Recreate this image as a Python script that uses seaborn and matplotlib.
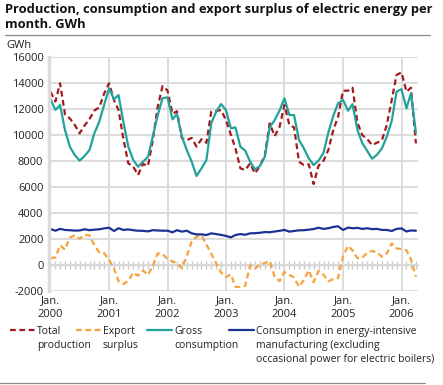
import matplotlib
matplotlib.use("Agg")
import matplotlib.pyplot as plt
from matplotlib.lines import Line2D
import numpy as np
import pandas as pd
import seaborn as sns

# ---------------- data ----------------
months = pd.date_range("2000-01-01", periods=76, freq="MS")

total_production = [
    13350, 12600, 14000, 11600, 11300, 10800, 10150, 10750, 11250, 11900, 12150, 13200,
    14000, 12700, 11950, 9700, 7850, 7590, 6950, 7800, 7640, 9640, 12200, 13790,
    13450, 11650, 11850, 9770, 9620, 9800, 9130, 9700, 9420, 11820, 11870, 11940,
    11170, 10020, 9000, 7460, 7330, 7840, 7070, 7640, 8480, 10920, 9940, 10610,
    12330, 10790, 10610, 7970, 7710, 7770, 6250, 7660, 8050, 8870, 10400, 11430,
    13430, 13430, 13660, 10970, 10020, 9710, 9250, 9430, 9640, 10790, 12710, 14640,
    14840, 13350, 13660, 9380,
]
export_surplus = [
    560, 600, 1540, 1200, 2140, 2300, 2050, 2350, 2300, 1560, 990, 940,
    420, -250, -1220, -1440, -1200, -560, -800, -400, -740, -60, 920, 860,
    480, 300, 170, -230, 700, 1820, 2200, 2300, 1600, 900, 150, -550,
    -900, -700, -1650, -1680, -1580, 0, -250, 50, 170, 330, -880, -1220,
    -520, -740, -950, -1650, -1130, -380, -1300, -430, -720, -1230, -1060, -980,
    700, 1500, 1150, 550, 600, 950, 1100, 1000, 650, 900, 1690, 1300,
    1250, 1150, 450, -870,
]
gross_consumption = [
    12770, 11950, 12330, 10400, 9130, 8480, 8050, 8410, 8870, 10150, 11050, 12330,
    13610, 12770, 13100, 11000, 9130, 8100, 7580, 7970, 8350, 9900, 11560, 12850,
    12920, 11230, 11640, 9900, 8870, 7970, 6870, 7460, 8100, 10920, 11820, 12400,
    11940, 10530, 10610, 9120, 8820, 7970, 7380, 7640, 8360, 10610, 11170, 11890,
    12840, 11560, 11560, 9640, 9000, 8230, 7710, 8050, 8660, 10200, 11500, 12450,
    12730, 11890, 12400, 10400, 9400, 8800, 8200, 8500, 9000, 9900, 11100, 13350,
    13550, 12070, 13230, 10200,
]
energy_intensive = [
    2790, 2660, 2800, 2720, 2700, 2670, 2680, 2770, 2700, 2740, 2770, 2840,
    2890, 2640, 2850, 2720, 2760, 2700, 2660, 2650, 2610, 2700, 2680, 2660,
    2660, 2540, 2700, 2590, 2660, 2460, 2380, 2380, 2330, 2460, 2400, 2340,
    2260, 2150, 2330, 2400, 2350, 2460, 2470, 2500, 2560, 2540, 2600, 2650,
    2720, 2590, 2640, 2690, 2700, 2740, 2790, 2890, 2800, 2850, 2950, 3000,
    2720, 2900, 2850, 2880, 2800, 2850, 2780, 2800, 2720, 2720, 2640, 2800,
    2840, 2600, 2680, 2660,
]

series_names = [
    "Total\nproduction",
    "Export\nsurplus",
    "Gross\nconsumption",
    "Consumption in energy-intensive\nmanufacturing (excluding\noccasional power for electric boilers)",
]
series_colors = ["#a3191c", "#f8a23c", "#22a29c", "#1b3293"]
year_ticks = pd.date_range("2000-01-01", periods=7, freq="YS")
year_labels = [f"Jan.\n{d.year}" for d in year_ticks]
y_ticks = list(range(-2000, 16001, 2000))

title = "Production, consumption and export surplus of electric energy per\nmonth. GWh"

# ---------------- long table ----------------
frames = []
for name, vals in zip(series_names,
                      [total_production, export_surplus, gross_consumption, energy_intensive]):
    frames.append(pd.DataFrame({"month": months, "GWh": vals, "series": name}))
df = pd.concat(frames, ignore_index=True)

palette = dict(zip(series_names, series_colors))
dashes = {series_names[0]: (2.6, 1.6), series_names[1]: (2.6, 1.6),
          series_names[2]: "", series_names[3]: ""}

# ---------------- style ----------------
sns.set_theme(style="whitegrid")
plt.rcParams["font.family"] = ["Open Sans", "DejaVu Sans"]
plt.rcParams["axes.unicode_minus"] = False

W, H = 443, 385
fig = plt.figure(figsize=(W / 100, H / 100), dpi=100)
ax = fig.add_axes([49 / W, 1 - 291.3 / H, (418 - 49) / W, (291.3 - 57.3) / H])

sns.lineplot(data=df, x="month", y="GWh", hue="series", style="series",
             palette=palette, dashes=dashes, hue_order=series_names,
             style_order=series_names, linewidth=1.6, ax=ax, legend=False)

ax.set_ylim(-2000, 16000)
ax.set_xlim(pd.Timestamp("1999-12-23"), pd.Timestamp("2006-04-14"))
ax.set_yticks(y_ticks)
ax.set_yticklabels([str(v) for v in y_ticks])
ax.set_xticks(year_ticks)
ax.set_xticklabels(year_labels, linespacing=1.3)
ax.set_xlabel("")
ax.set_ylabel("")
ax.grid(True, color="#d9d9d9", linewidth=1.3)
ax.set_axisbelow(True)
ax.tick_params(axis="both", length=0, labelsize=8, colors="#222222")
ax.tick_params(axis="y", pad=4)
ax.tick_params(axis="x", pad=3)
for s in ["top", "right", "bottom"]:
    ax.spines[s].set_visible(False)
ax.spines["left"].set_color("#dcdcdc")
ax.spines["left"].set_linewidth(2.5)

# zero line with monthly ticks
sec = ax.secondary_xaxis(2000 / 18000)
sec.set_xticks(months)
sec.tick_params(axis="x", which="major", bottom=True, direction="inout", length=6,
                width=0.9, color="#c8c8c8", labelbottom=False)
sec.spines["bottom"].set_color("#c8c8c8")
sec.spines["bottom"].set_linewidth(1.0)

# ---------------- texts ----------------
fig.text(5 / W, 1 - 3 / H, title, ha="left", va="top", fontsize=9.3,
         fontweight="bold", color="#111111", linespacing=1.15)
fig.add_artist(Line2D([5 / W, 430 / W], [1 - 34.5 / H, 1 - 34.5 / H],
                      color="#8a8a8a", linewidth=0.9))
fig.add_artist(Line2D([0 / W, 425 / W], [1 - 383 / H, 1 - 383 / H],
                      color="#8a8a8a", linewidth=0.9))
fig.text(6 / W, 1 - 48 / H, "GWh", ha="left", va="baseline", fontsize=8, color="#222222")

# ---------------- legend ----------------
leg_x = [10, 76, 147, 229]
for name, col, lx in zip(series_names, series_colors, leg_x):
    ls = (0, (2.6, 1.6)) if dashes[name] != "" else "-"
    h = Line2D([], [], color=col, linewidth=1.6, linestyle=ls)
    leg = fig.legend([h], [name], loc="upper left",
                     bbox_to_anchor=(lx / W, 1 - 326 / H),
                     frameon=False, fontsize=7.45, handlelength=2.4,
                     handletextpad=0.2, borderpad=0, borderaxespad=0,
                     handleheight=1.15)
    for t in leg.get_texts():
        t.set_linespacing(1.35)
        t.set_color("#222222")
    try:
        for col_box in leg._legend_handle_box.get_children():
            for hp in col_box.get_children():
                hp.align = "top"
    except Exception:
        pass

fig.savefig("out.png", dpi=100)
